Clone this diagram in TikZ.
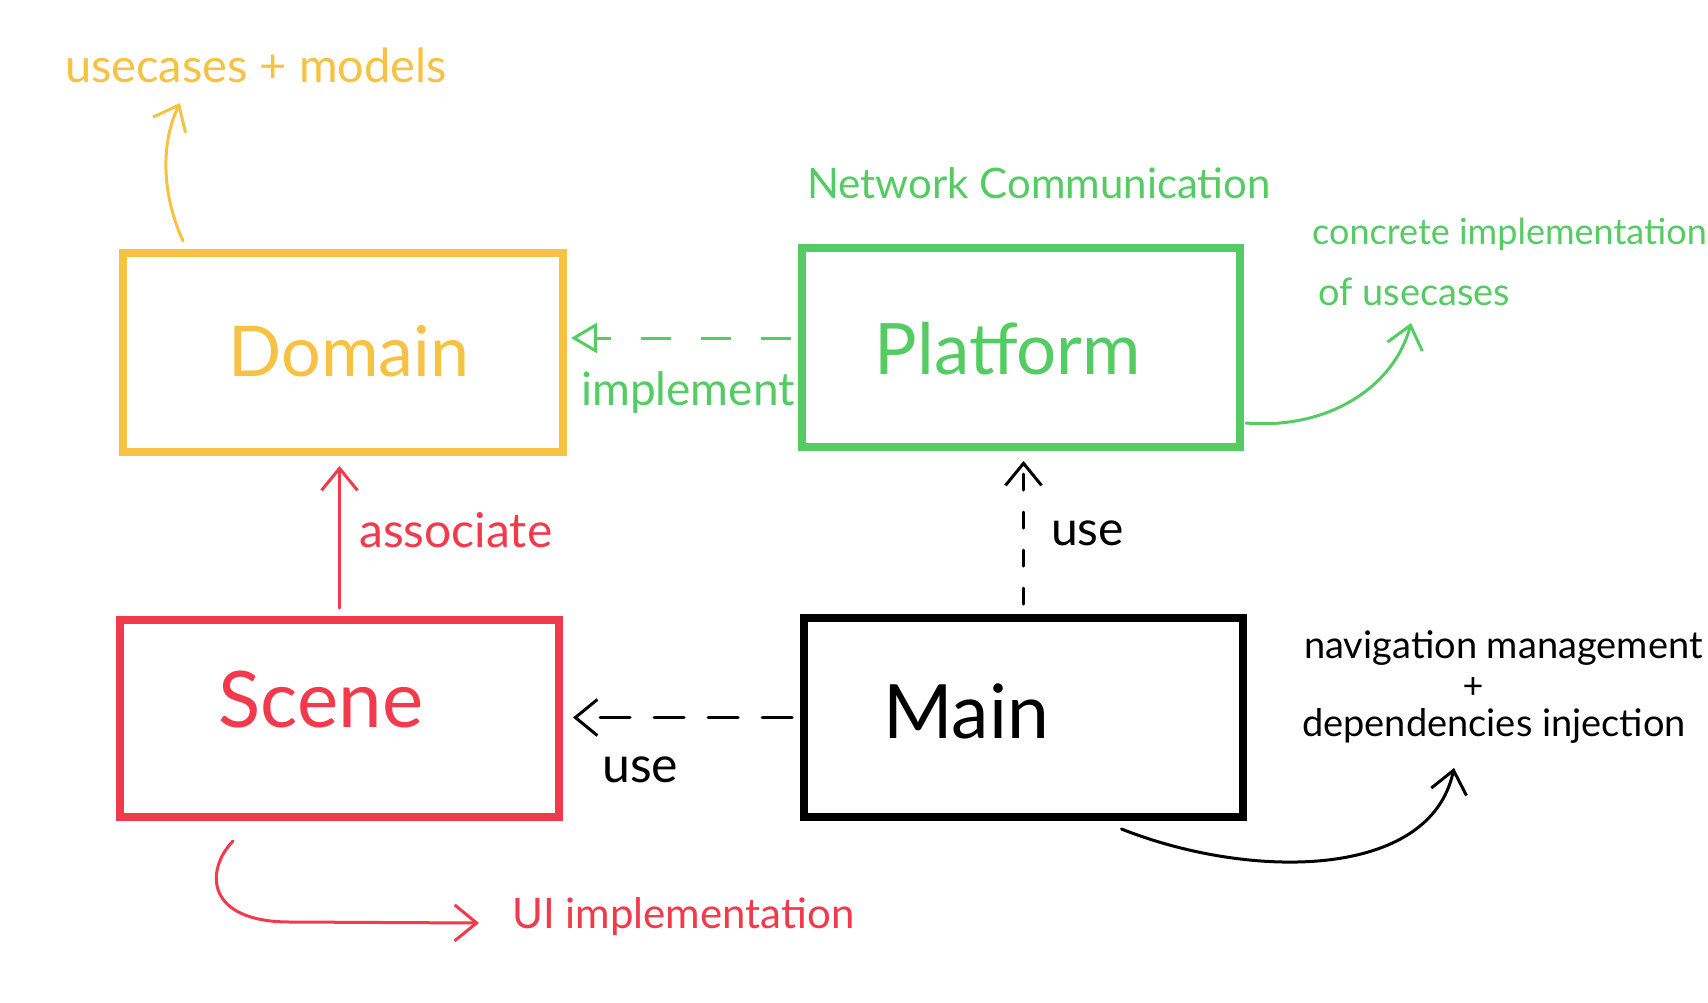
\documentclass[tikz,border=0pt]{standalone}
\usepackage{fontspec}
\setmainfont{Lato}
\usetikzlibrary{arrows.meta,calc}
\definecolor{cyel}{HTML}{F7C243}
\definecolor{cgrn}{HTML}{55CC63}
\definecolor{cred}{HTML}{F13A4B}
\newcommand{\fsz}[1]{\fontsize{#1}{#1}\selectfont}
\tikzset{
  box/.style={draw, line width=8pt, minimum width=#1, inner sep=0pt},
  conn/.style={line width=3pt, line cap=round, -{Straight Barb[length=22pt,width=36pt,line width=3pt]}},
  impl/.style={line width=3pt, dash pattern=on 30pt off 30pt, -{Triangle[open,length=26pt,width=30pt,line width=3pt]}},
  lbl/.style={inner sep=0pt, anchor=west},
}
\begin{document}
\begin{tikzpicture}[x=1pt,y=-1pt]
\useasboundingbox (0,0) rectangle (1708,1002);
\fill[white] (0,0) rectangle (1708,1002);

% boxes
\node[box=440pt, draw=cyel, minimum height=199pt] (dom) at (343,352.5) {};
\node[box=438pt, draw=cgrn, minimum height=199pt] (plat) at (1021,347.5) {};
\node[box=439pt, draw=cred, minimum height=197pt] (scene) at (339.5,718.5) {};
\node[box=439pt, draw=black, minimum height=199pt] (main) at (1023.5,717.5) {};

% box labels
\node[text=cyel, inner sep=0pt] (tdom) at (349,351) {\fsz{70}Domain};
\node[text=cgrn, inner sep=0pt] (tplat) at (1008,349) {\fsz{71}Platform};
\node[text=cred, inner sep=0pt] (tscene) at (321,700) {\fsz{78}Scene};
\node[text=black, inner sep=0pt] (tmain) at (966,711) {\fsz{75}Main};

% annotations
\node[text=cyel, inner sep=0pt] (tuse) at (256,65) {\fsz{47}usecases + models};
\node[text=cgrn, inner sep=0pt] (tnet) at (1039,183) {\fsz{42}Network Communication};
\node[text=cgrn, lbl] (tconc) at (1312,234) {\fsz{36}concrete implementation};
\node[text=cgrn, lbl] (tof) at (1318,292) {\fsz{38}of usecases};
\node[text=cgrn, inner sep=0pt] (timpl) at (688,392) {\fsz{46}implement};
\node[text=cred, lbl] (tassoc) at (359,530) {\fsz{48}associate};
\node[text=black, lbl] (tuse1) at (1051,533) {\fsz{48}use};
\node[text=black, lbl] (tuse2) at (602,770) {\fsz{50}use};
\node[text=black, lbl] (tnav) at (1304,648) {\fsz{38}navigation management};
\node[text=black, inner sep=0pt] (tplus) at (1473,688) {\fsz{36}+};
\node[text=black, lbl] (tdep) at (1302,726) {\fsz{38}dependencies injection};
\node[text=cred, lbl] (tui) at (512,917) {\fsz{42}UI implementation};

% free ends
\coordinate (ya) at ($(dom.north west)+(64,-8)$);
\coordinate (yb) at (180,103);
\coordinate (ga) at ($(plat.south east)+(2,-28)$);
\coordinate (gb) at (1411,323);
\coordinate (ka) at ($(main.south)+(98,8)$);
\coordinate (kb) at (1454,768);
\coordinate (ra) at ($(scene.south west)+(117,20)$);
\coordinate (rb) at (479,923);

% connectors
\draw[impl, draw=cgrn] ($(plat.west)+(-7,-9.5)$) -- ($(dom.east)+(4,-14.5)$);
\draw[conn, draw=cred, shorten >=10pt] ($(scene.north)+(0,-8)$) -- ($(scene.north |- dom.south)$);
\draw[conn, draw=black, dash pattern=on 16pt off 22pt, shorten >=10pt, shorten <=10pt] (main.north) -- (main.north |- plat.south);
\draw[conn, draw=black, dash pattern=on 30pt off 24pt, shorten >=10pt, shorten <=8pt] (main.west) -- (main.west -| scene.east);

\draw[conn, draw=cyel] (ya) .. controls (160,190) and (162,140) .. (yb);
\draw[conn, draw=cgrn] (ga) .. controls (1330,430) and (1395,385) .. (gb);
\draw[conn, draw=black] (ka) .. controls (1250,880) and (1430,880) .. (kb);
\draw[conn, draw=cred] (ra) .. controls (205,870) and (205,922) .. (290,922) -- (rb);
\end{tikzpicture}
\end{document}
